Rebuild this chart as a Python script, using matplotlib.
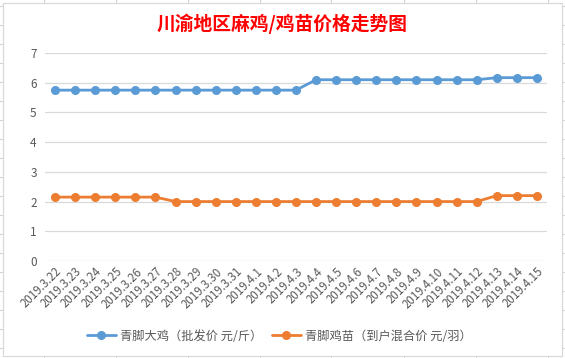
import matplotlib
matplotlib.use("Agg")
import matplotlib.pyplot as plt
from matplotlib.lines import Line2D
from matplotlib.patches import Rectangle

plt.rcParams['font.family'] = ['Noto Sans CJK SC', 'DejaVu Sans']

title = "川渝地区麻鸡/鸡苗价格走势图"
dates = ["2019.3.22", "2019.3.23", "2019.3.24", "2019.3.25", "2019.3.26", "2019.3.27",
         "2019.3.28", "2019.3.29", "2019.3.30", "2019.3.31", "2019.4.1", "2019.4.2",
         "2019.4.3", "2019.4.4", "2019.4.5", "2019.4.6", "2019.4.7", "2019.4.8",
         "2019.4.9", "2019.4.10", "2019.4.11", "2019.4.12", "2019.4.13", "2019.4.14",
         "2019.4.15"]
chicken_name = "青脚大鸡（批发价 元/斤）"
chicken = [5.75] * 13 + [6.1] * 9 + [6.17] * 3
chick_name = "青脚鸡苗（到户混合价 元/羽）"
chick = [2.15] * 6 + [2.0] * 16 + [2.2] * 3
yticks = [0, 1, 2, 3, 4, 5, 6, 7]

W, H = 565, 358
fig = plt.figure(figsize=(W / 100, H / 100), dpi=100)
fig.patch.set_facecolor("white")

def px(x, y):
    return x / W, 1 - y / H

# spreadsheet cell grid in background
cell = "#d4d4d4"
for x in [44, 116, 188, 260, 331, 404, 476, 548]:
    fig.add_artist(Line2D([x / W, x / W], [0, 1], color=cell, lw=0.8, zorder=0))
for k in range(0, 20):
    y = 5.5 + 19.05 * k
    fig.add_artist(Line2D([0, 1], [1 - y / H, 1 - y / H], color=cell, lw=0.8, zorder=0))

# chart area
x0, y0 = px(3, 356)
x1, y1 = px(562, 3)
fig.add_artist(Rectangle((x0, y0), x1 - x0, y1 - y0, transform=fig.transFigure,
                         facecolor="white", edgecolor="#d9d9d9", lw=0.9, zorder=1))

ax = fig.add_axes([45 / W, 1 - 261 / H, 502 / W, 208 / H], zorder=2)
ax.set_facecolor("none")
xs = list(range(len(dates)))
ax.plot(xs, chicken, color="#5B9BD5", lw=2.0, marker="o", ms=5.5, label=chicken_name,
        solid_capstyle="round")
ax.plot(xs, chick, color="#ED7D31", lw=2.0, marker="o", ms=5.5, label=chick_name,
        solid_capstyle="round")

ax.set_xlim(-0.5, len(dates) - 0.5)
ax.set_ylim(0, 7)
ax.set_yticks(yticks)
ax.set_yticklabels([str(v) for v in yticks], fontsize=8.5, color="#595959")
ax.set_xticks(xs)
ax.set_xticklabels(dates, rotation=45, ha="right", rotation_mode="anchor",
                   fontsize=8.3, color="#595959")
ax.tick_params(axis="both", length=0)
ax.tick_params(axis="y", pad=6)
ax.tick_params(axis="x", pad=3)
ax.grid(axis="y", color="#d9d9d9", lw=0.9)
ax.set_axisbelow(True)
for s in ax.spines.values():
    s.set_visible(False)

fig.text(282 / W, 1 - 24 / H, title, color="#ff0000", fontsize=13.5, fontweight="bold",
         ha="center", va="center")

leg = fig.legend(loc="center", bbox_to_anchor=(279 / W, 1 - 336 / H), ncol=2,
                 frameon=False, fontsize=8.8, handlelength=2.4, handletextpad=0.3,
                 columnspacing=0.8)
for t in leg.get_texts():
    t.set_color("#595959")

fig.savefig("out.png", dpi=100, facecolor="white")
